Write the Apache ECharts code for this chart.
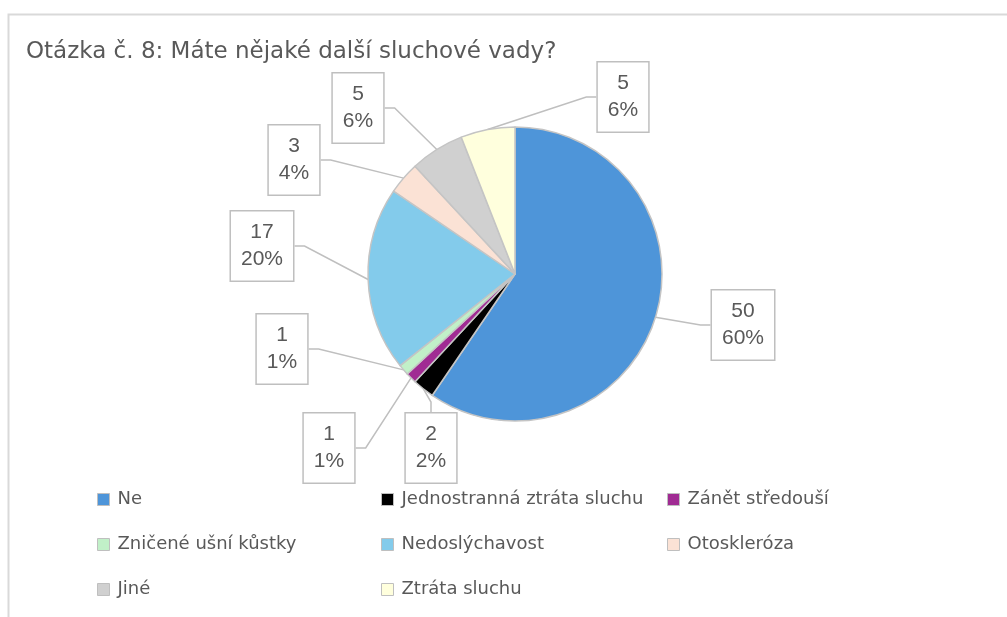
<!DOCTYPE html>
<html>
<head>
<meta charset="utf-8">
<title>Otázka č. 8</title>
<style>
    *{margin:0;padding:0;}
    html,body{width:100%;height:100%;background:#fff;}
    #main{width:1007px;height:617px;}
</style>
</head>
<body>
<div id="main"></div>
<script src="https://cdn.jsdelivr.net/npm/echarts@6/dist/echarts.min.js"></script>
<script type="text/javascript">
    // data
    var categories = ['Ne', 'Jednostranná ztráta sluchu', 'Zánět středouší', 'Zničené ušní kůstky',
                      'Nedoslýchavost', 'Otoskleróza', 'Jiné', 'Ztráta sluchu'];
    var counts = [50, 2, 1, 1, 17, 3, 5, 5];
    var colors = ['#4e95d9', '#000000', '#a02b93', '#c1f0c8', '#83cbeb', '#fbe2d5', '#d0d0d0', '#ffffdd'];

    // where each callout box sits (centre of box)
    var labelPos = [[743, 325], [431, 448], [329, 448], [282, 349],
                    [262, 246], [294, 160], [358, 108], [623, 97]];

    var legendCols = [
        ['Ne', 'Zničené ušní kůstky', 'Jiné'],
        ['Jednostranná ztráta sluchu', 'Nedoslýchavost', 'Ztráta sluchu'],
        ['Zánět středouší', 'Otoskleróza']
    ];
    var legendLeft = [97, 381, 667];

    var total = counts.reduce(function (a, b) { return a + b; }, 0);
    var FONT = 'DejaVu Sans';
    var TEXT = '#595959';

    var myChart = echarts.init(document.getElementById('main'));

    var legends = legendCols.map(function (col, i) {
        return {
            orient: 'vertical',
            left: legendLeft[i],
            top: 489,
            padding: 0,
            data: col,
            icon: 'rect',
            itemWidth: 12,
            itemHeight: 12,
            itemGap: 24,
            selectedMode: false,
            itemStyle: {borderColor: '#bfbfbf', borderWidth: 1},
            textStyle: {color: TEXT, fontSize: 18, fontFamily: FONT, padding: [0, 0, 0, 3], lineHeight: 21}
        };
    });

    var option = {
        animation: false,
        color: colors,
        title: {
            text: 'Otázka č. 8: Máte nějaké další sluchové vady?',
            left: 21,
            top: 36,
            textStyle: {color: TEXT, fontSize: 23, fontWeight: 'normal', fontFamily: FONT}
        },
        graphic: [{
            type: 'rect',
            shape: {x: 8.5, y: 14.5, width: 1200, height: 800},
            style: {fill: 'none', stroke: '#d9d9d9', lineWidth: 2},
            silent: true
        }],
        legend: legends,
        series: [{
            type: 'pie',
            center: [515, 274],
            radius: [0, 147],
            startAngle: 90,
            clockwise: true,
            avoidLabelOverlap: false,
            itemStyle: {borderColor: '#c4c4c4', borderWidth: 1.5},
            label: {
                show: true,
                formatter: function (p) {
                    return p.value + '\n' + Math.round(p.value / total * 100) + '%';
                },
                color: TEXT,
                fontSize: 21,
                fontFamily: 'Liberation Sans',
                lineHeight: 27,
                align: 'center',
                backgroundColor: '#fff',
                borderColor: '#bfbfbf',
                borderWidth: 1.5,
                padding: [8, 10, 7, 10]
            },
            labelLine: {
                show: true,
                length: 10,
                length2: 10,
                lineStyle: {color: '#bfbfbf', width: 1.5}
            },
            labelLayout: function (params) {
                var p = labelPos[params.dataIndex];
                return {x: p[0], y: p[1], align: 'center', verticalAlign: 'middle'};
            },
            data: categories.map(function (name, i) {
                return {name: name, value: counts[i]};
            })
        }]
    };

    myChart.setOption(option);
</script>
</body>
</html>
